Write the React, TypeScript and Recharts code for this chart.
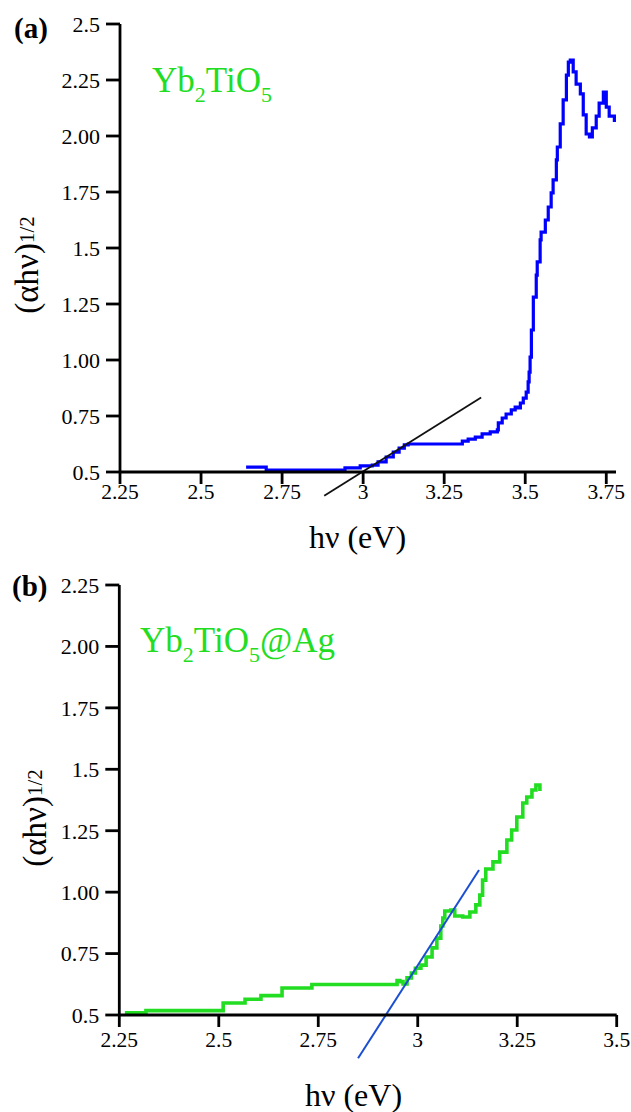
import React from 'react';
import { LineChart, Line, XAxis, YAxis, ReferenceLine } from 'recharts';

const FONT = '"Liberation Serif", "Times New Roman", serif';

// ---------- Panel (a): Yb2TiO5 ----------
const hvA = [
  2.639, 2.691, 2.701, 2.938, 2.944, 2.985, 2.991, 3.028, 3.046, 3.071,
  3.093, 3.111, 3.127, 3.139, 3.287, 3.306, 3.324, 3.346, 3.367, 3.392,
  3.414, 3.417, 3.429, 3.441, 3.457, 3.469, 3.478, 3.485, 3.494, 3.503,
  3.509, 3.512, 3.515, 3.519, 3.525, 3.534, 3.537, 3.546, 3.549, 3.562,
  3.571, 3.580, 3.586, 3.596, 3.599, 3.608, 3.617, 3.627, 3.633, 3.639,
  3.648, 3.657, 3.670, 3.679, 3.688, 3.698, 3.707, 3.719, 3.728, 3.741,
  3.750, 3.759, 3.775,
];
const alphaA = [
  0.522, 0.522, 0.509, 0.509, 0.518, 0.518, 0.527, 0.531, 0.545, 0.567,
  0.589, 0.607, 0.621, 0.625, 0.625, 0.638, 0.647, 0.656, 0.670, 0.679,
  0.688, 0.719, 0.741, 0.759, 0.777, 0.790, 0.786, 0.808, 0.830, 0.857,
  0.902, 0.946, 1.013, 1.134, 1.281, 1.379, 1.438, 1.536, 1.571, 1.625,
  1.683, 1.746, 1.804, 1.893, 1.951, 2.054, 2.161, 2.272, 2.330, 2.339,
  2.286, 2.232, 2.188, 2.094, 2.009, 1.996, 2.036, 2.089, 2.147, 2.196,
  2.129, 2.089, 2.063,
];
const xTicksA = [2.25, 2.5, 2.75, 3, 3.25, 3.5, 3.75];
const xTickLabelsA = ['2.25', '2.5', '2.75', '3', '3.25', '3.5', '3.75'];
const yTicksA = [0.5, 0.75, 1, 1.25, 1.5, 1.75, 2, 2.25, 2.5];
const yTickLabelsA = ['0.5', '0.75', '1.00', '1.25', '1.5', '1.75', '2.00', '2.25', '2.5'];
const tangentHvA = [2.88, 3.364];
const tangentAlphaA = [0.394, 0.833];

// ---------- Panel (b): Yb2TiO5@Ag ----------
const hvB = [
  2.264, 2.312, 2.317, 2.506, 2.511, 2.561, 2.566, 2.598, 2.606, 2.654,
  2.659, 2.727, 2.734, 2.938, 2.948, 2.955, 2.963, 2.973, 2.984, 2.994,
  3.008, 3.021, 3.036, 3.048, 3.058, 3.063, 3.068, 3.083, 3.093, 3.113,
  3.131, 3.146, 3.156, 3.163, 3.171, 3.189, 3.206, 3.224, 3.236, 3.249,
  3.264, 3.274, 3.287, 3.297, 3.307,
];
const alphaB = [
  0.509, 0.509, 0.518, 0.518, 0.549, 0.549, 0.564, 0.564, 0.579, 0.579,
  0.610, 0.610, 0.624, 0.624, 0.640, 0.636, 0.626, 0.651, 0.671, 0.690,
  0.703, 0.736, 0.773, 0.813, 0.862, 0.895, 0.923, 0.927, 0.903, 0.899,
  0.919, 0.948, 0.988, 1.049, 1.094, 1.123, 1.163, 1.212, 1.253, 1.306,
  1.363, 1.387, 1.416, 1.436, 1.412,
];
const xTicksB = [2.25, 2.5, 2.75, 3, 3.25, 3.5];
const xTickLabelsB = ['2.25', '2.5', '2.75', '3', '3.25', '3.5'];
const yTicksB = [0.5, 0.75, 1, 1.25, 1.5, 1.75, 2, 2.25];
const yTickLabelsB = ['0.5', '0.75', '1.00', '1.25', '1.5', '1.75', '2.00', '2.25'];
const tangentHvB = [2.85, 3.154];
const tangentAlphaB = [0.324, 1.09];

const dataA = hvA.map((x, i) => ({ x, y: alphaA[i] }));
const dataB = hvB.map((x, i) => ({ x, y: alphaB[i] }));
const segA = tangentHvA.map((x, i) => ({ x, y: tangentAlphaA[i] }));
const segB = tangentHvB.map((x, i) => ({ x, y: tangentAlphaB[i] }));

const axisStyle = { stroke: '#000', strokeWidth: 2.8 };

const label = (ticks: number[], labels: string[], v: number) => {
  const i = ticks.findIndex((t) => Math.abs(t - v) < 1e-9);
  return i >= 0 ? labels[i] : String(v);
};

const makeXTick = (ticks: number[], labels: string[]) => (props: any) => {
  const { x, y, payload } = props;
  return (
    <text
      x={x}
      y={y}
      dy="0.71em"
      textAnchor="middle"
      fontFamily={FONT}
      fontSize={21.5}
      fill="#000"
    >
      {label(ticks, labels, payload.value)}
    </text>
  );
};

const makeYTick = (ticks: number[], labels: string[]) => (props: any) => {
  const { x, y, payload } = props;
  return (
    <text
      x={x}
      y={y}
      dy="0.355em"
      textAnchor="end"
      fontFamily={FONT}
      fontSize={22}
      fill="#000"
    >
      {label(ticks, labels, payload.value)}
    </text>
  );
};

const GREEN = '#22dd22';

function YTitle({ x, y }: { x: number; y: number }) {
  return (
    <text
      x={x}
      y={y}
      transform={`rotate(-90, ${x}, ${y})`}
      textAnchor="middle"
      fontFamily={FONT}
      fontSize={33}
      fill="#000"
    >
      (αhν)
      <tspan fontSize={21} dy={-4}>
        1/2
      </tspan>
    </text>
  );
}

export default function App() {
  return (
    <div
      style={{
        position: 'absolute',
        left: 0,
        top: 0,
        width: 631,
        height: 1112,
        background: '#fff',
        overflow: 'hidden',
      }}
    >
      <div style={{ position: 'absolute', left: 0, top: 0 }}>
        <LineChart
          width={631}
          height={560}
          data={dataA}
          margin={{ top: 24, right: 15, bottom: 0, left: 0 }}
        >
          <XAxis
            dataKey="x"
            type="number"
            domain={[2.25, 3.78]}
            ticks={xTicksA}
            interval={0}
            height={88}
            tickSize={12}
            tickMargin={0}
            axisLine={axisStyle}
            tickLine={axisStyle}
            tick={makeXTick(xTicksA, xTickLabelsA)}
          />
          <YAxis
            type="number"
            domain={[0.5, 2.5]}
            ticks={yTicksA}
            interval={0}
            width={120}
            tickSize={14}
            tickMargin={6}
            axisLine={axisStyle}
            tickLine={axisStyle}
            tick={makeYTick(yTicksA, yTickLabelsA)}
          />
          <Line
            type="stepAfter"
            dataKey="y"
            stroke="#0000ff"
            strokeWidth={3.2}
            dot={false}
            activeDot={false}
            isAnimationActive={false}
          />
          <ReferenceLine
            segment={segA}
            stroke="#111"
            strokeWidth={1.8}
            ifOverflow="visible"
          />
        </LineChart>
      </div>

      <div style={{ position: 'absolute', left: 0, top: 560 }}>
        <LineChart
          width={631}
          height={552}
          data={dataB}
          margin={{ top: 25, right: 14.3, bottom: 0, left: 0 }}
        >
          <XAxis
            dataKey="x"
            type="number"
            domain={[2.25, 3.5]}
            ticks={xTicksB}
            interval={0}
            height={97}
            tickSize={12}
            tickMargin={5}
            axisLine={axisStyle}
            tickLine={axisStyle}
            tick={makeXTick(xTicksB, xTickLabelsB)}
          />
          <YAxis
            type="number"
            domain={[0.5, 2.25]}
            ticks={yTicksB}
            interval={0}
            width={119.3}
            tickSize={14}
            tickMargin={6}
            axisLine={axisStyle}
            tickLine={axisStyle}
            tick={makeYTick(yTicksB, yTickLabelsB)}
          />
          <Line
            type="stepAfter"
            dataKey="y"
            stroke={GREEN}
            strokeWidth={3.6}
            dot={false}
            activeDot={false}
            isAnimationActive={false}
          />
          <ReferenceLine
            segment={segB}
            stroke="#1b4fd1"
            strokeWidth={2}
            ifOverflow="visible"
          />
        </LineChart>
      </div>

      <svg
        width={631}
        height={1112}
        style={{ position: 'absolute', left: 0, top: 0, pointerEvents: 'none' }}
      >
        {/* Panel (a) */}
        <text x={14} y={38} fontFamily={FONT} fontSize={29} fontWeight="bold" fill="#000">
          (a)
        </text>
        <text x={152} y={92} fontFamily={FONT} fontSize={35} fill={GREEN}>
          Yb
          <tspan fontSize={22} dy={10}>2</tspan>
          <tspan dy={-10}>TiO</tspan>
          <tspan fontSize={22} dy={10}>5</tspan>
        </text>
        <YTitle x={38} y={265} />
        <text x={357.5} y={548} textAnchor="middle" fontFamily={FONT} fontSize={32} fill="#000">
          hν (eV)
        </text>

        {/* Panel (b) */}
        <text x={12} y={596} fontFamily={FONT} fontSize={29} fontWeight="bold" fill="#000">
          (b)
        </text>
        <text x={140} y={652} fontFamily={FONT} fontSize={35} fill={GREEN}>
          Yb
          <tspan fontSize={22} dy={10}>2</tspan>
          <tspan dy={-10}>TiO</tspan>
          <tspan fontSize={22} dy={10}>5</tspan>
          <tspan dy={-10}>@Ag</tspan>
        </text>
        <YTitle x={46} y={818} />
        <text x={353.5} y={1106} textAnchor="middle" fontFamily={FONT} fontSize={32} fill="#000">
          hν (eV)
        </text>
      </svg>
    </div>
  );
}
